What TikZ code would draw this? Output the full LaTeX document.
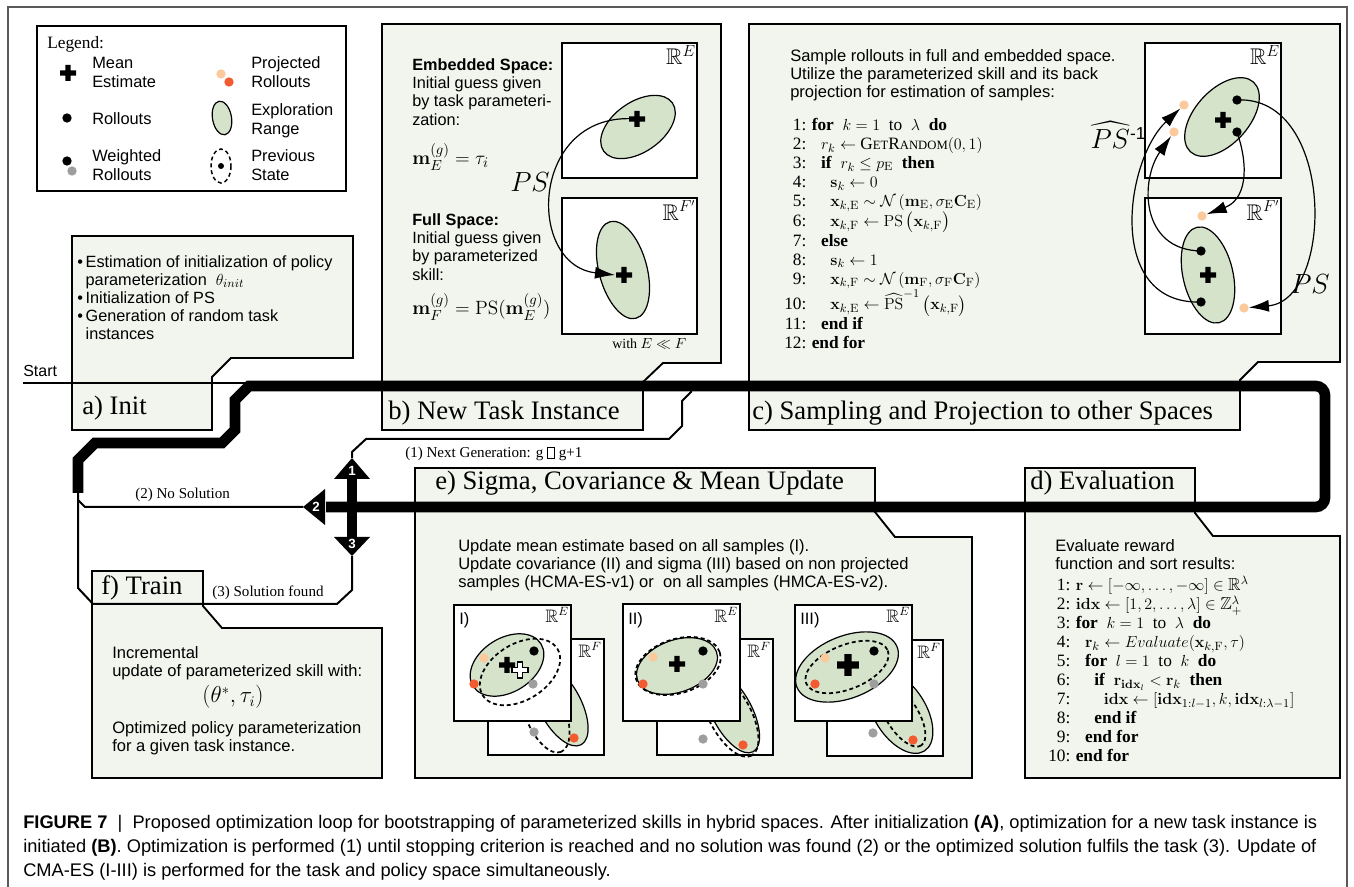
\documentclass[tikz,border=0pt]{standalone}
\usepackage{amsmath,amssymb}
\usepackage[no-math]{fontspec}
\setmainfont{Liberation Serif}
\setsansfont{Liberation Sans}
\usetikzlibrary{arrows.meta}

\definecolor{boxfill}{RGB}{242,244,238}
\definecolor{explgreen}{RGB}{213,227,203}
\definecolor{peach}{RGB}{252,201,156}
\definecolor{orangered}{RGB}{244,90,48}
\definecolor{rollgray}{RGB}{158,158,158}
\definecolor{framegray}{RGB}{90,90,90}

\newcommand{\textlines}[1]{\begin{tabular}{@{}l@{}}#1\end{tabular}}
\newcommand{\algind}{\hspace*{7pt}}
\newcommand{\getrandom}{G{\fontsize{9.5}{10}\selectfont ET}R{\fontsize{9.5}{10}\selectfont ANDOM}}

\tikzset{
  stage/.style={fill=boxfill, draw=black, line width=1.4pt, line join=miter},
  loopline/.style={line width=8pt, line join=miter},
  flowline/.style={line width=1.5pt, line join=miter},
  plotbox/.style={fill=white, draw=black, line width=1.3pt},
  expl/.style={fill=explgreen, draw=black, line width=0.9pt},
  prev/.style={draw=black, line width=1.3pt, dash pattern=on 3pt off 2.2pt},
  projarrow/.style={-{Latex[length=15pt,width=9pt]}, line width=0.9pt},
  sample/.style={circle, inner sep=0pt, minimum size=7pt},
  rollout/.style={sample, fill=black},
  weighted/.style={sample, fill=rollgray},
  projlight/.style={sample, fill=peach},
  projdark/.style={sample, fill=orangered},
  stagetitle/.style={font=\fontsize{20}{24}\selectfont, anchor=base west, inner sep=0pt},
  bodytext/.style={font=\sffamily\fontsize{12.4}{13.5}\selectfont, anchor=north west, inner sep=0pt},
  legendtext/.style={font=\sffamily\fontsize{12.3}{14.25}\selectfont, anchor=north west, inner sep=0pt},
  algtext/.style={font=\fontsize{13}{14.25}\selectfont, anchor=north west, inner sep=0pt},
  flowlabel/.style={font=\fontsize{11.3}{13}\selectfont, anchor=base west, inner sep=0pt},
  spacelabel/.style={font=\fontsize{17}{20}\selectfont, anchor=north east, inner sep=0pt},
  smallspacelabel/.style={font=\fontsize{13.5}{16}\selectfont, anchor=north east, inner sep=0pt},
  junctionnum/.style={text=white, font=\sffamily\bfseries\fontsize{10}{10}\selectfont, inner sep=0pt},
  crossmark/.pic={\path[pic actions] (-2.6,-8) -- (2.6,-8) -- (2.6,-2.6) -- (8,-2.6) -- (8,2.6) -- (2.6,2.6) -- (2.6,8) -- (-2.6,8) -- (-2.6,2.6) -- (-8,2.6) -- (-8,-2.6) -- (-2.6,-2.6) -- cycle;},
}

\begin{document}
\begin{tikzpicture}[x=0.75pt, y=-0.75pt]
  \useasboundingbox (0,0) rectangle (1354,887);
  \draw[framegray, line width=0.9pt] (8,900) -- (8,7) -- (1347,7) -- (1347,900);

  % legend
  \draw[fill=white, line width=1.4pt] (37,26) rectangle (346,191);
  \node[anchor=base west, inner sep=0pt, font=\fontsize{13}{15}\selectfont] (legendtitle) at (47,49) {Legend:};
  \pic[fill=black] at (68,73) {crossmark};
  \node[rollout] (lgroll) at (67,118) {};
  \node[rollout] (lgwa) at (67,161) {};
  \node[weighted] (lgwb) at (72,171) {};
  \node[projlight] (lgpa) at (221,74) {};
  \node[projdark] (lgpb) at (229,82) {};
  \draw[expl, rotate around={10:(222,118)}] (222,118) ellipse [x radius=9.5, y radius=17];
  \draw[prev, line width=1.1pt] (221,166) ellipse [x radius=10, y radius=17];
  \node[rollout, minimum size=4.5pt] (lgprev) at (221,166) {};
  \node[legendtext] (lgmeantext) at (92,54.7) {\textlines{Mean\\Estimate}};
  \node[legendtext] (lgrolltext) at (92,110.7) {\textlines{Rollouts}};
  \node[legendtext] (lgwtext) at (92,147.7) {\textlines{Weighted\\Rollouts}};
  \node[legendtext] (lgptext) at (251,54.7) {\textlines{Projected\\Rollouts}};
  \node[legendtext] (lgetext) at (251,101.7) {\textlines{Exploration\\Range}};
  \node[legendtext] (lgstext) at (251,147.7) {\textlines{Previous\\State}};

  % stage boxes
  \path[stage] (72,236) -- (353,236) -- (353,358) -- (231,358) -- (212,377) -- (212,430) -- (72,430) -- cycle;
  \path[stage] (382,24) -- (721,24) -- (721,363) -- (663,363) -- (643,382) -- (643,430) -- (382,430) -- cycle;
  \path[stage] (749,24) -- (1340,24) -- (1340,362) -- (1258,362) -- (1240,380) -- (1240,430) -- (749,430) -- cycle;
  \path[stage] (1025,468) -- (1195,468) -- (1195,513) -- (1213,536) -- (1340,536) -- (1340,778) -- (1025,778) -- cycle;
  \path[stage] (415,468) -- (875,468) -- (875,512) -- (895,537) -- (972,537) -- (972,778) -- (415,778) -- cycle;
  \path[stage] (92,571) -- (203,571) -- (203,606) -- (222,628) -- (382,628) -- (382,778) -- (92,778) -- cycle;

  % loop
  \coordinate (startpt) at (23,383);
  \coordinate (jtop) at (352,458);
  \coordinate (jleft) at (303,507);
  \coordinate (jbottom) at (352,556);
  \draw[flowline] (startpt) -- (255,383);
  \draw[loopline] (78,493) -- (78,460) -- (95,443) -- (222,443) -- (235,430) -- (235,400) -- (249,386) -- (1000,386)
    [rounded corners=7] -- (1325,386) -- (1325,507) -- (900,507) [sharp corners] -- (326,507);
  \draw[flowline] (jleft) -- (85,507) -- (78,500);
  \draw[flowline] (78,492) -- (78,588) -- (93,604) -- (337,604) -- (352,590) -- (jbottom);
  \draw[flowline] (jtop) -- (352,452) -- (366,439) -- (669,439) -- (682,426) -- (682,401) -- (691,392) -- (691,386);
  \draw[loopline] (352,476) -- (352,540);
  \fill (jtop) -- (370,479) -- (334,479) -- cycle;
  \fill (jleft) -- (325,489) -- (325,525) -- cycle;
  \fill (jbottom) -- (334,537) -- (370,537) -- cycle;
  \node[junctionnum] (jone) at (352,471) {1};
  \node[junctionnum] (jtwo) at (316,507) {2};
  \node[junctionnum] (jthree) at (352,544) {3};

  % a) init
  \node[bodytext, font=\sffamily\fontsize{12.2}{13.5}\selectfont] (inittext) at (77,254.4) {\begin{tabular}{@{}l@{\,}l@{}}
    \textbullet & Estimation of initialization of policy\\
     & parameterization \ $\theta_{init}$\\
    \textbullet & Initialization of PS\\
    \textbullet & Generation of random task\\
     & instances\end{tabular}};
  \node[anchor=base west, inner sep=0pt, font=\sffamily\fontsize{12}{14}\selectfont] (starttext) at (23,377) {Start};
  \node[stagetitle] (inittitle) at (82,415) {a) Init};

  % b) new task instance
  \draw[plotbox] (562,43) rectangle (697,178);
  \draw[plotbox] (562,198) rectangle (697,334);
  \draw[expl, rotate around={35:(638,127)}] (638,127) ellipse [x radius=42, y radius=25];
  \draw[expl, rotate around={-75:(623,270)}] (623,270) ellipse [x radius=50, y radius=24];
  \coordinate (bEmean) at (637,119);
  \coordinate (bFmean) at (624,275);
  \coordinate (bFin) at (615,275);
  \draw[projarrow] (bEmean) .. controls (530,110) and (525,265) .. (bFin);
  \pic[fill=black] at (bEmean) {crossmark};
  \pic[fill=black] at (bFmean) {crossmark};
  \node[spacelabel] (bElabel) at (696,45) {$\mathbb{R}^{E}$};
  \node[spacelabel] (bFlabel) at (696,200) {$\mathbb{R}^{F'}$};
  \node[font=\fontsize{20}{24}\selectfont, inner sep=0pt] (bPS) at (530,182) {$PS$};
  \node[bodytext, font=\sffamily\fontsize{12.2}{13.7}\selectfont] (bembtext) at (412,57.2) {\textlines{\textbf{Embedded Space:}\\Initial guess given\\by task parameteri-\\zation:}};
  \node[anchor=west, inner sep=0pt, font=\fontsize{15}{18}\selectfont] (bembform) at (412,157) {$\mathbf{m}_E^{(g)} = \tau_i$};
  \node[bodytext, font=\sffamily\fontsize{12.2}{13.7}\selectfont] (bfulltext) at (412,212.2) {\textlines{\textbf{Full Space:}\\Initial guess given\\by parameterized\\skill:}};
  \node[anchor=west, inner sep=0pt, font=\fontsize{15}{18}\selectfont] (bfullform) at (412,307) {$\mathbf{m}_F^{(g)} = \mathrm{PS}(\mathbf{m}_E^{(g)})$};
  \node[flowlabel, font=\fontsize{10.5}{12}\selectfont] (bwith) at (612,349) {with $E \ll F$};
  \node[stagetitle] (tasktitle) at (388,420) {b) New Task Instance};

  % c) sampling and projection
  \draw[plotbox] (1145,43) rectangle (1281,178);
  \draw[plotbox] (1145,198) rectangle (1281,334);
  \draw[expl, rotate around={48:(1222,117)}] (1222,117) ellipse [x radius=47, y radius=27];
  \draw[expl, rotate around={-77:(1208,275)}] (1208,275) ellipse [x radius=49, y radius=25];
  \node[rollout] (cEtop) at (1237,100) {};
  \node[rollout] (cElow) at (1237,132) {};
  \node[projlight] (cEpa) at (1184,105) {};
  \node[projlight] (cEpb) at (1174,132) {};
  \node[rollout] (cFup) at (1201,251) {};
  \node[rollout] (cFlow) at (1201,302) {};
  \node[projlight] (cFpa) at (1202,216) {};
  \node[projlight] (cFpb) at (1244,308) {};
  \draw[projarrow] (cEtop.center) .. controls (1335,95) and (1335,300) .. (cFpb);
  \draw[projarrow] (cElow.center) .. controls (1250,170) and (1245,200) .. (cFpa);
  \draw[projarrow] (cFup.center) .. controls (1140,250) and (1140,180) .. (cEpb);
  \draw[projarrow] (cFlow.center) .. controls (1105,305) and (1125,160) .. (cEpa);
  \pic[fill=black] at (1223,120) {crossmark};
  \pic[fill=black] at (1208,275) {crossmark};
  \node[spacelabel] (cElabel) at (1280,45) {$\mathbb{R}^{E}$};
  \node[spacelabel] (cFlabel) at (1280,200) {$\mathbb{R}^{F'}$};
  \node[font=\fontsize{20}{24}\selectfont, inner sep=0pt] (cPS) at (1310,284) {$PS$};
  \node[font=\fontsize{20}{24}\selectfont, inner sep=0pt] (cPSinv) at (1118,135) {$\widehat{PS}$\raisebox{7pt}{\sffamily\fontsize{13}{13}\selectfont -1}};
  \node[bodytext] (ctext) at (790,48.4) {\textlines{Sample rollouts in full and embedded space.\\Utilize the parameterized skill and its back\\projection for estimation of samples:}};
  \node[algtext] (calg) at (784,116.7) {\begin{tabular}{@{}r@{\hspace{4pt}}l@{}}
    1: & \textbf{for}\ \ $k = 1$\ \ to\ \ $\lambda$\ \ \textbf{do}\\
    2: & \algind$r_k \leftarrow$ \getrandom$(0,1)$\\
    3: & \algind\textbf{if}\ \ $r_k \leq p_{\mathrm{E}}$\ \ \textbf{then}\\
    4: & \algind\algind$\mathbf{s}_k \leftarrow 0$\\
    5: & \algind\algind$\mathbf{x}_{k,\mathrm{E}} \sim \mathcal{N}\left(\mathbf{m}_{\mathrm{E}}, \sigma_{\mathrm{E}}\mathbf{C}_{\mathrm{E}}\right)$\\
    6: & \algind\algind$\mathbf{x}_{k,\mathrm{F}} \leftarrow \mathrm{PS}\left(\mathbf{x}_{k,\mathrm{F}}\right)$\\
    7: & \algind\textbf{else}\\
    8: & \algind\algind$\mathbf{s}_k \leftarrow 1$\\
    9: & \algind\algind$\mathbf{x}_{k,\mathrm{F}} \sim \mathcal{N}\left(\mathbf{m}_{\mathrm{F}}, \sigma_{\mathrm{F}}\mathbf{C}_{\mathrm{F}}\right)$\\
    10: & \algind\algind$\mathbf{x}_{k,\mathrm{E}} \leftarrow \widehat{\mathrm{PS}}^{-1}\left(\mathbf{x}_{k,\mathrm{F}}\right)$\\
    11: & \algind\textbf{end if}\\
    12: & \textbf{end for}\end{tabular}};
  \node[stagetitle] (sampletitle) at (752,420) {c) Sampling and Projection to other Spaces};

  % d) evaluation
  \node[bodytext] (dtext) at (1055,538.4) {\textlines{Evaluate reward\\function and sort results:}};
  \node[algtext] (dalg) at (1048,575.7) {\begin{tabular}{@{}r@{\hspace{4pt}}l@{}}
    1: & $\mathbf{r} \leftarrow [-\infty, \ldots, -\infty] \in \mathbb{R}^{\lambda}$\\
    2: & $\mathbf{idx} \leftarrow [1, 2, \ldots, \lambda] \in \mathbb{Z}_{+}^{\lambda}$\\
    3: & \textbf{for}\ \ $k = 1$\ \ to\ \ $\lambda$\ \ \textbf{do}\\
    4: & \algind$\mathbf{r}_k \leftarrow Evaluate(\mathbf{x}_{k,\mathrm{F}}, \tau)$\\
    5: & \algind\textbf{for}\ \ $l = 1$\ \ to\ \ $k$\ \ \textbf{do}\\
    6: & \algind\algind\textbf{if}\ \ $\mathbf{r}_{\mathbf{idx}_l} < \mathbf{r}_k$\ \ \textbf{then}\\
    7: & \algind\algind\algind$\mathbf{idx} \leftarrow [\mathbf{idx}_{1:l-1}, k, \mathbf{idx}_{l:\lambda-1}]$\\
    8: & \algind\algind\textbf{end if}\\
    9: & \algind\textbf{end for}\\
    10: & \textbf{end for}\end{tabular}};
  \node[stagetitle] (evaltitle) at (1030,490) {d) Evaluation};

  % e) update
  \node[bodytext] (etext) at (458,538.4) {\textlines{Update mean estimate based on all samples (I).\\Update covariance (II) and sigma (III) based on non projected\\samples (HCMA-ES-v1) or \ on all samples (HMCA-ES-v2).}};
  \begin{scope}[shift={(454,605)}]
    \draw[plotbox] (34,34) rectangle (150,150);
    \draw[expl, rotate around={-62:(106,100)}] (106,100) ellipse [x radius=45, y radius=21];
    \draw[prev, rotate around={-68:(91,107)}] (91,107) ellipse [x radius=43, y radius=20];
    \node[weighted] (eIFw) at (80,127) {};
    \node[projdark] (eIFp) at (120,133) {};
    \node[smallspacelabel] (eIFlabel) at (148,37) {$\mathbb{R}^{F}$};
    \draw[plotbox] (0,0) rectangle (117,116);
    \draw[expl, rotate around={32:(53,60)}] (53,60) ellipse [x radius=40, y radius=27];
    \draw[prev, rotate around={32:(66,67)}] (66,67) ellipse [x radius=44, y radius=28];
    \node[rollout] (eIEr) at (80,46) {};
    \node[projlight] (eIEpa) at (30,53) {};
    \node[projdark] (eIEpb) at (20,79) {};
    \node[weighted] (eIEw) at (79,79) {};
    \pic[fill=black] at (53,60) {crossmark};
    \pic[fill=white, draw=black, line width=0.9pt] at (66,65) {crossmark};
    \node[bodytext] (eIname) at (5,7) {I)};
    \node[smallspacelabel] (eIElabel) at (115,2) {$\mathbb{R}^{E}$};
  \end{scope}
  \begin{scope}[shift={(623,604)}]
    \draw[plotbox] (34,35) rectangle (150,151);
    \draw[expl, rotate around={-62:(109,108)}] (109,108) ellipse [x radius=45, y radius=20];
    \draw[prev, rotate around={-62:(107,111)}] (107,111) ellipse [x radius=46, y radius=21];
    \node[weighted] (eIIFw) at (80,135) {};
    \node[projdark] (eIIFp) at (120,141) {};
    \node[smallspacelabel] (eIIFlabel) at (148,38) {$\mathbb{R}^{F}$};
    \draw[plotbox] (0,0) rectangle (117,117);
    \draw[expl, rotate around={20:(54,62)}] (54,62) ellipse [x radius=42, y radius=26];
    \draw[prev, rotate around={18:(55,62)}] (55,62) ellipse [x radius=44, y radius=27];
    \node[rollout] (eIIEr) at (80,47) {};
    \node[projlight] (eIIEpa) at (30,53) {};
    \node[projdark] (eIIEpb) at (20,80) {};
    \node[weighted] (eIIEw) at (80,80) {};
    \pic[fill=black] at (54,60) {crossmark};
    \node[bodytext] (eIIname) at (5,8) {II)};
    \node[smallspacelabel] (eIIElabel) at (115,3) {$\mathbb{R}^{E}$};
  \end{scope}
  \begin{scope}[shift={(795,605)}]
    \draw[plotbox] (32,35) rectangle (148,151);
    \draw[expl, rotate around={-58:(105,107)}] (105,107) ellipse [x radius=46, y radius=26];
    \draw[prev, rotate around={-58:(107,110)}] (107,110) ellipse [x radius=36, y radius=16];
    \node[weighted] (eIIIFw) at (78,128) {};
    \node[projdark] (eIIIFp) at (118,135) {};
    \node[smallspacelabel] (eIIIFlabel) at (146,38) {$\mathbb{R}^{F}$};
    \draw[plotbox] (0,0) rectangle (117,116);
    \draw[expl, rotate around={22:(52,62)}] (52,62) ellipse [x radius=54, y radius=31];
    \draw[prev, rotate around={22:(52,62)}] (52,62) ellipse [x radius=44, y radius=22];
    \node[rollout] (eIIIEr) at (79,46) {};
    \node[projlight] (eIIIEpa) at (30,53) {};
    \node[projdark] (eIIIEpb) at (20,79) {};
    \node[weighted] (eIIIEw) at (79,79) {};
    \pic[fill=black, scale=1.35] at (53,60) {crossmark};
    \node[bodytext] (eIIIname) at (5,7) {III)};
    \node[smallspacelabel] (eIIIElabel) at (115,2) {$\mathbb{R}^{E}$};
  \end{scope}
  \node[stagetitle] (updatetitle) at (435,490) {e) Sigma, Covariance \& Mean Update};

  % f) train
  \node[bodytext] (ftext) at (112,645.4) {\textlines{Incremental\\update of parameterized skill with:}};
  \node[inner sep=0pt, font=\fontsize{16}{18}\selectfont] (fform) at (233,697) {$\left(\theta^{*}, \tau_i\right)$};
  \node[bodytext] (ftext2) at (112,720.4) {\textlines{Optimized policy parameterization\\for a given task instance.}};
  \node[stagetitle] (traintitle) at (101,595) {f) Train};

  % flow labels
  \node[flowlabel] (nextgen) at (405,458) {(1) Next Generation: g {\fboxsep=0pt\fboxrule=0.5pt\fbox{\rule{0pt}{7.5pt}\hspace{5pt}}} g+1};
  \node[flowlabel] (nosol) at (135,499) {(2) No Solution};
  \node[flowlabel] (solfound) at (212,597) {(3) Solution found};

  % caption
  \node[anchor=north west, inner sep=0pt, font=\sffamily\fontsize{13.7}{18}\selectfont] (caption) at (23,811.2) {\textlines{\textbf{FIGURE 7}\ \ |\ \ Proposed optimization loop for bootstrapping of parameterized skills in hybrid spaces. After initialization \textbf{(A)}, optimization for a new task instance is\\initiated \textbf{(B)}. Optimization is performed (1) until stopping criterion is reached and no solution was found (2) or the optimized solution fulfils the task (3). Update of\\CMA-ES (I-III) is performed for the task and policy space simultaneously.}};
\end{tikzpicture}
\end{document}
